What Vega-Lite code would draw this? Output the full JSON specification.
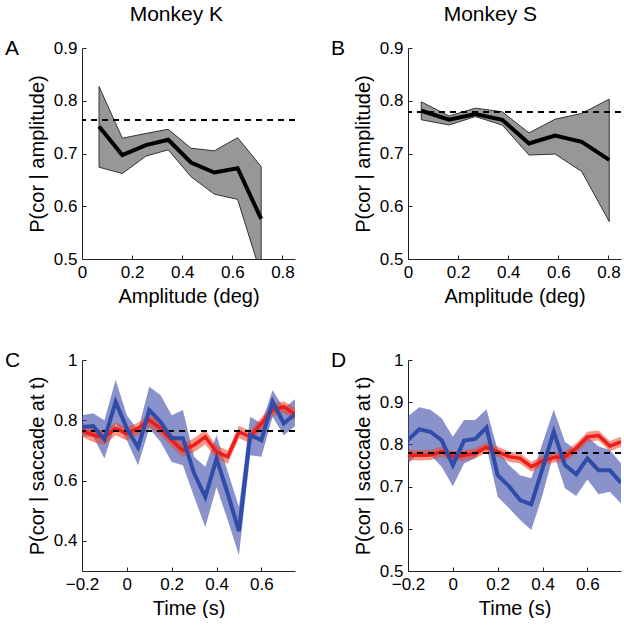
{
  "$schema": "https://vega.github.io/schema/vega-lite/v6.json",
  "padding": {"left": 5, "top": 4, "right": 0, "bottom": 0},
  "background": "white",
  "config": {
    "font": "Liberation Sans",
    "view": {"stroke": null},
    "axis": {
      "grid": false,
      "labelFont": "Liberation Sans",
      "titleFont": "Liberation Sans",
      "labelFontSize": 17,
      "titleFontSize": 20,
      "titleFontWeight": "normal",
      "labelColor": "#000000",
      "titleColor": "#000000",
      "domainColor": "#222222",
      "tickColor": "#222222",
      "tickSize": -4,
      "labelPadding": 9,
      "labelFlush": false,
      "labelOverlap": false,
      "titlePadding": 6
    },
    "title": {"font": "Liberation Sans", "fontWeight": "normal", "fontSize": 21, "color": "#000000"}
  },
  "datasets": {
    "amp_k": [
      {"x": 0.068, "mean": 0.751, "lo": 0.674, "hi": 0.827},
      {"x": 0.161, "mean": 0.697, "lo": 0.662, "hi": 0.729},
      {"x": 0.255, "mean": 0.716, "lo": 0.695, "hi": 0.738},
      {"x": 0.344, "mean": 0.726, "lo": 0.707, "hi": 0.746},
      {"x": 0.435, "mean": 0.683, "lo": 0.656, "hi": 0.710},
      {"x": 0.528, "mean": 0.664, "lo": 0.623, "hi": 0.705},
      {"x": 0.621, "mean": 0.672, "lo": 0.613, "hi": 0.730},
      {"x": 0.715, "mean": 0.576, "lo": 0.470, "hi": 0.675}
    ],
    "amp_s": [
      {"x": 0.053, "mean": 0.781, "lo": 0.764, "hi": 0.798},
      {"x": 0.164, "mean": 0.764, "lo": 0.754, "hi": 0.771},
      {"x": 0.269, "mean": 0.775, "lo": 0.770, "hi": 0.786},
      {"x": 0.376, "mean": 0.764, "lo": 0.754, "hi": 0.779},
      {"x": 0.483, "mean": 0.719, "lo": 0.697, "hi": 0.739},
      {"x": 0.587, "mean": 0.734, "lo": 0.699, "hi": 0.765},
      {"x": 0.693, "mean": 0.722, "lo": 0.666, "hi": 0.776},
      {"x": 0.803, "mean": 0.688, "lo": 0.571, "hi": 0.803}
    ],
    "time_k": [
      {"t": -0.2, "s": "blue", "m": 0.778, "lo": 0.747, "hi": 0.817},
      {"t": -0.15, "s": "blue", "m": 0.781, "lo": 0.745, "hi": 0.823},
      {"t": -0.1, "s": "blue", "m": 0.737, "lo": 0.673, "hi": 0.800},
      {"t": -0.05, "s": "blue", "m": 0.861, "lo": 0.790, "hi": 0.934},
      {"t": 0.0, "s": "blue", "m": 0.773, "lo": 0.734, "hi": 0.817},
      {"t": 0.05, "s": "blue", "m": 0.710, "lo": 0.651, "hi": 0.767},
      {"t": 0.1, "s": "blue", "m": 0.834, "lo": 0.773, "hi": 0.911},
      {"t": 0.15, "s": "blue", "m": 0.795, "lo": 0.729, "hi": 0.884},
      {"t": 0.2, "s": "blue", "m": 0.740, "lo": 0.662, "hi": 0.817},
      {"t": 0.25, "s": "blue", "m": 0.740, "lo": 0.651, "hi": 0.834},
      {"t": 0.3, "s": "blue", "m": 0.624, "lo": 0.546, "hi": 0.679},
      {"t": 0.35, "s": "blue", "m": 0.546, "lo": 0.446, "hi": 0.646},
      {"t": 0.4, "s": "blue", "m": 0.673, "lo": 0.579, "hi": 0.751},
      {"t": 0.45, "s": "blue", "m": 0.557, "lo": 0.468, "hi": 0.629},
      {"t": 0.5, "s": "blue", "m": 0.432, "lo": 0.352, "hi": 0.513},
      {"t": 0.55, "s": "blue", "m": 0.751, "lo": 0.684, "hi": 0.812},
      {"t": 0.6, "s": "blue", "m": 0.734, "lo": 0.679, "hi": 0.790},
      {"t": 0.65, "s": "blue", "m": 0.861, "lo": 0.812, "hi": 0.900},
      {"t": 0.7, "s": "blue", "m": 0.790, "lo": 0.750, "hi": 0.840},
      {"t": 0.75, "s": "blue", "m": 0.820, "lo": 0.780, "hi": 0.870},
      {"t": -0.2, "s": "red", "m": 0.767, "lo": 0.745, "hi": 0.787},
      {"t": -0.15, "s": "red", "m": 0.751, "lo": 0.728, "hi": 0.772},
      {"t": -0.1, "s": "red", "m": 0.743, "lo": 0.718, "hi": 0.765},
      {"t": -0.05, "s": "red", "m": 0.773, "lo": 0.750, "hi": 0.793},
      {"t": 0.0, "s": "red", "m": 0.756, "lo": 0.733, "hi": 0.777},
      {"t": 0.05, "s": "red", "m": 0.773, "lo": 0.752, "hi": 0.792},
      {"t": 0.1, "s": "red", "m": 0.800, "lo": 0.778, "hi": 0.820},
      {"t": 0.15, "s": "red", "m": 0.773, "lo": 0.752, "hi": 0.793},
      {"t": 0.2, "s": "red", "m": 0.734, "lo": 0.712, "hi": 0.755},
      {"t": 0.25, "s": "red", "m": 0.700, "lo": 0.678, "hi": 0.722},
      {"t": 0.3, "s": "red", "m": 0.718, "lo": 0.695, "hi": 0.740},
      {"t": 0.35, "s": "red", "m": 0.745, "lo": 0.720, "hi": 0.768},
      {"t": 0.4, "s": "red", "m": 0.695, "lo": 0.672, "hi": 0.716},
      {"t": 0.45, "s": "red", "m": 0.679, "lo": 0.656, "hi": 0.700},
      {"t": 0.5, "s": "red", "m": 0.762, "lo": 0.740, "hi": 0.782},
      {"t": 0.55, "s": "red", "m": 0.745, "lo": 0.724, "hi": 0.765},
      {"t": 0.6, "s": "red", "m": 0.790, "lo": 0.770, "hi": 0.810},
      {"t": 0.65, "s": "red", "m": 0.834, "lo": 0.813, "hi": 0.853},
      {"t": 0.7, "s": "red", "m": 0.845, "lo": 0.825, "hi": 0.863},
      {"t": 0.75, "s": "red", "m": 0.820, "lo": 0.800, "hi": 0.840}
    ],
    "time_s": [
      {"t": -0.2, "s": "blue", "m": 0.810, "lo": 0.755, "hi": 0.867},
      {"t": -0.15, "s": "blue", "m": 0.836, "lo": 0.779, "hi": 0.888},
      {"t": -0.1, "s": "blue", "m": 0.830, "lo": 0.775, "hi": 0.882},
      {"t": -0.05, "s": "blue", "m": 0.810, "lo": 0.747, "hi": 0.862},
      {"t": 0.0, "s": "blue", "m": 0.751, "lo": 0.701, "hi": 0.818},
      {"t": 0.05, "s": "blue", "m": 0.809, "lo": 0.755, "hi": 0.858},
      {"t": 0.1, "s": "blue", "m": 0.813, "lo": 0.767, "hi": 0.858},
      {"t": 0.15, "s": "blue", "m": 0.840, "lo": 0.795, "hi": 0.883},
      {"t": 0.2, "s": "blue", "m": 0.727, "lo": 0.676, "hi": 0.787},
      {"t": 0.25, "s": "blue", "m": 0.701, "lo": 0.649, "hi": 0.751},
      {"t": 0.3, "s": "blue", "m": 0.668, "lo": 0.621, "hi": 0.727},
      {"t": 0.35, "s": "blue", "m": 0.658, "lo": 0.597, "hi": 0.720},
      {"t": 0.4, "s": "blue", "m": 0.743, "lo": 0.680, "hi": 0.803},
      {"t": 0.45, "s": "blue", "m": 0.830, "lo": 0.779, "hi": 0.882},
      {"t": 0.5, "s": "blue", "m": 0.751, "lo": 0.696, "hi": 0.806},
      {"t": 0.55, "s": "blue", "m": 0.729, "lo": 0.678, "hi": 0.787},
      {"t": 0.6, "s": "blue", "m": 0.767, "lo": 0.717, "hi": 0.818},
      {"t": 0.65, "s": "blue", "m": 0.739, "lo": 0.682, "hi": 0.795},
      {"t": 0.7, "s": "blue", "m": 0.739, "lo": 0.688, "hi": 0.787},
      {"t": 0.75, "s": "blue", "m": 0.709, "lo": 0.660, "hi": 0.755},
      {"t": -0.2, "s": "red", "m": 0.775, "lo": 0.763, "hi": 0.787},
      {"t": -0.15, "s": "red", "m": 0.774, "lo": 0.762, "hi": 0.786},
      {"t": -0.1, "s": "red", "m": 0.775, "lo": 0.763, "hi": 0.787},
      {"t": -0.05, "s": "red", "m": 0.783, "lo": 0.771, "hi": 0.795},
      {"t": 0.0, "s": "red", "m": 0.772, "lo": 0.760, "hi": 0.784},
      {"t": 0.05, "s": "red", "m": 0.774, "lo": 0.762, "hi": 0.786},
      {"t": 0.1, "s": "red", "m": 0.779, "lo": 0.767, "hi": 0.791},
      {"t": 0.15, "s": "red", "m": 0.793, "lo": 0.781, "hi": 0.805},
      {"t": 0.2, "s": "red", "m": 0.783, "lo": 0.771, "hi": 0.795},
      {"t": 0.25, "s": "red", "m": 0.771, "lo": 0.759, "hi": 0.783},
      {"t": 0.3, "s": "red", "m": 0.767, "lo": 0.755, "hi": 0.779},
      {"t": 0.35, "s": "red", "m": 0.747, "lo": 0.735, "hi": 0.759},
      {"t": 0.4, "s": "red", "m": 0.761, "lo": 0.749, "hi": 0.773},
      {"t": 0.45, "s": "red", "m": 0.769, "lo": 0.757, "hi": 0.781},
      {"t": 0.5, "s": "red", "m": 0.771, "lo": 0.759, "hi": 0.783},
      {"t": 0.55, "s": "red", "m": 0.791, "lo": 0.779, "hi": 0.803},
      {"t": 0.6, "s": "red", "m": 0.818, "lo": 0.806, "hi": 0.830},
      {"t": 0.65, "s": "red", "m": 0.821, "lo": 0.809, "hi": 0.833},
      {"t": 0.7, "s": "red", "m": 0.796, "lo": 0.784, "hi": 0.808},
      {"t": 0.75, "s": "red", "m": 0.806, "lo": 0.794, "hi": 0.818}
    ]
  },
  "hconcat": [
    {
      "title": {"text": "Monkey K", "anchor": "middle", "dx": 26, "offset": 13},
      "spacing": 44,
      "vconcat": [
        {
          "width": 213, "height": 211,
          "title": {"text": "A", "anchor": "start", "frame": "group", "dx": -77, "offset": -31, "baseline": "middle"},
          "data": {"name": "amp_k"},
          "layer": [
            {
              "mark": {"type": "area", "fill": "#979797", "stroke": "#333333", "strokeWidth": 1, "clip": true},
              "encoding": {
                "x": {"field": "x", "type": "quantitative", "scale": {"domain": [0, 0.85], "nice": false}, "axis": {"values": [0, 0.2, 0.4, 0.6, 0.8], "format": "~g", "title": "Amplitude (deg)"}},
                "y": {"field": "lo", "type": "quantitative", "scale": {"domain": [0.5, 0.9], "nice": false}, "axis": {"values": [0.5, 0.6, 0.7, 0.8, 0.9], "format": "~g", "title": "P(cor | amplitude)"}},
                "y2": {"field": "hi"}
              }
            },
            {
              "mark": {"type": "line", "color": "#000000", "strokeWidth": 4, "clip": true},
              "encoding": {
                "x": {"field": "x", "type": "quantitative"},
                "y": {"field": "mean", "type": "quantitative"}
              }
            },
            {
              "mark": {"type": "rule", "color": "#000000", "strokeWidth": 1.5, "strokeDash": [6, 5]},
              "encoding": {"y": {"datum": 0.763}}
            }
          ]
        },
        {
          "width": 213, "height": 211,
          "title": {"text": "C", "anchor": "start", "frame": "group", "dx": -77, "offset": -31, "baseline": "middle"},
          "data": {"name": "time_k"},
          "layer": [
            {
              "transform": [{"filter": "datum.s === 'blue'"}],
              "mark": {"type": "area", "fill": "#3a4aa8", "opacity": 0.6, "clip": true},
              "encoding": {
                "x": {"field": "t", "type": "quantitative", "scale": {"domain": [-0.2, 0.75], "nice": false}, "axis": {"values": [-0.2, 0, 0.2, 0.4, 0.6], "format": "~g", "title": "Time (s)"}},
                "y": {"field": "lo", "type": "quantitative", "scale": {"domain": [0.3, 1], "nice": false}, "axis": {"values": [0.4, 0.6, 0.8, 1], "format": "~g", "title": "P(cor | saccade at t)"}},
                "y2": {"field": "hi"}
              }
            },
            {
              "transform": [{"filter": "datum.s === 'red'"}],
              "mark": {"type": "area", "fill": "#f04020", "opacity": 0.55, "clip": true},
              "encoding": {
                "x": {"field": "t", "type": "quantitative"},
                "y": {"field": "lo", "type": "quantitative"},
                "y2": {"field": "hi"}
              }
            },
            {
              "transform": [{"filter": "datum.s === 'red'"}],
              "mark": {"type": "line", "color": "#ee1c1c", "strokeWidth": 3.5, "clip": true},
              "encoding": {
                "x": {"field": "t", "type": "quantitative"},
                "y": {"field": "m", "type": "quantitative"}
              }
            },
            {
              "mark": {"type": "rule", "color": "#000000", "strokeWidth": 1.5, "strokeDash": [6, 5]},
              "encoding": {"y": {"datum": 0.765}}
            },
            {
              "transform": [{"filter": "datum.s === 'blue'"}],
              "mark": {"type": "line", "color": "#2e4ca8", "strokeWidth": 4, "clip": true},
              "encoding": {
                "x": {"field": "t", "type": "quantitative"},
                "y": {"field": "m", "type": "quantitative"}
              }
            }
          ]
        }
      ]
    },
    {
      "title": {"text": "Monkey S", "anchor": "middle", "dx": 14, "offset": 13},
      "spacing": 44,
      "vconcat": [
        {
          "width": 213, "height": 211,
          "title": {"text": "B", "anchor": "start", "frame": "group", "dx": -77, "offset": -31, "baseline": "middle"},
          "data": {"name": "amp_s"},
          "layer": [
            {
              "mark": {"type": "area", "fill": "#979797", "stroke": "#333333", "strokeWidth": 1, "clip": true},
              "encoding": {
                "x": {"field": "x", "type": "quantitative", "scale": {"domain": [0, 0.85], "nice": false}, "axis": {"values": [0, 0.2, 0.4, 0.6, 0.8], "format": "~g", "title": "Amplitude (deg)"}},
                "y": {"field": "lo", "type": "quantitative", "scale": {"domain": [0.5, 0.9], "nice": false}, "axis": {"values": [0.5, 0.6, 0.7, 0.8, 0.9], "format": "~g", "title": "P(cor | amplitude)"}},
                "y2": {"field": "hi"}
              }
            },
            {
              "mark": {"type": "line", "color": "#000000", "strokeWidth": 4, "clip": true},
              "encoding": {
                "x": {"field": "x", "type": "quantitative"},
                "y": {"field": "mean", "type": "quantitative"}
              }
            },
            {
              "mark": {"type": "rule", "color": "#000000", "strokeWidth": 1.5, "strokeDash": [6, 5]},
              "encoding": {"y": {"datum": 0.778}}
            }
          ]
        },
        {
          "width": 213, "height": 211,
          "title": {"text": "D", "anchor": "start", "frame": "group", "dx": -77, "offset": -31, "baseline": "middle"},
          "data": {"name": "time_s"},
          "layer": [
            {
              "transform": [{"filter": "datum.s === 'blue'"}],
              "mark": {"type": "area", "fill": "#3a4aa8", "opacity": 0.6, "clip": true},
              "encoding": {
                "x": {"field": "t", "type": "quantitative", "scale": {"domain": [-0.2, 0.75], "nice": false}, "axis": {"values": [-0.2, 0, 0.2, 0.4, 0.6], "format": "~g", "title": "Time (s)"}},
                "y": {"field": "lo", "type": "quantitative", "scale": {"domain": [0.5, 1], "nice": false}, "axis": {"values": [0.5, 0.6, 0.7, 0.8, 0.9, 1], "format": "~g", "title": "P(cor | saccade at t)"}},
                "y2": {"field": "hi"}
              }
            },
            {
              "transform": [{"filter": "datum.s === 'red'"}],
              "mark": {"type": "area", "fill": "#f04020", "opacity": 0.55, "clip": true},
              "encoding": {
                "x": {"field": "t", "type": "quantitative"},
                "y": {"field": "lo", "type": "quantitative"},
                "y2": {"field": "hi"}
              }
            },
            {
              "transform": [{"filter": "datum.s === 'red'"}],
              "mark": {"type": "line", "color": "#ee1c1c", "strokeWidth": 3.5, "clip": true},
              "encoding": {
                "x": {"field": "t", "type": "quantitative"},
                "y": {"field": "m", "type": "quantitative"}
              }
            },
            {
              "mark": {"type": "rule", "color": "#000000", "strokeWidth": 1.5, "strokeDash": [6, 5]},
              "encoding": {"y": {"datum": 0.779}}
            },
            {
              "transform": [{"filter": "datum.s === 'blue'"}],
              "mark": {"type": "line", "color": "#2e4ca8", "strokeWidth": 4, "clip": true},
              "encoding": {
                "x": {"field": "t", "type": "quantitative"},
                "y": {"field": "m", "type": "quantitative"}
              }
            }
          ]
        }
      ]
    }
  ],
  "spacing": 35
}
